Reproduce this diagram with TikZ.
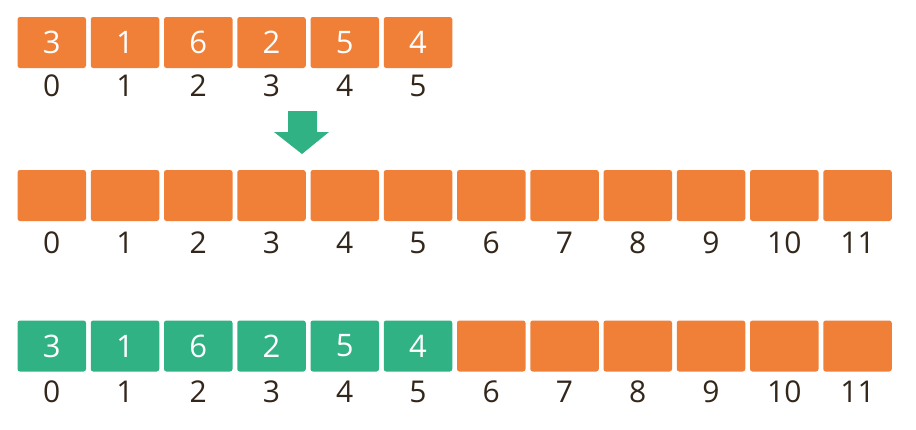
\documentclass[tikz,border=0pt]{standalone}
\usepackage{fontspec}
\setmainfont{Open Sans}
\definecolor{boxor}{HTML}{F07F37}
\definecolor{boxgr}{HTML}{30B285}
\definecolor{ink}{HTML}{33261A}
\begin{document}
\begin{tikzpicture}[x=1pt,y=-1pt,
  cell/.style={minimum width=68.5pt,minimum height=51pt,inner sep=0pt,rounded corners=2.5pt,font=\fontsize{31}{31}\selectfont,text=white},
  orcell/.style={cell,fill=boxor},
  grcell/.style={cell,fill=boxgr},
  idx/.style={inner sep=0pt,text=ink,font=\fontsize{30}{30}\selectfont}]
\useasboundingbox (0,0) rectangle (916,429);
\fill[white] (0,0) rectangle (916,429);
% top row
\foreach \v [count=\i from 0] in {3,1,6,2,5,4}{
  \node[orcell] (t\i) at ({51.75+73.25*\i},42.5) {\v};
  \node[idx] (tl\i) at ({51.75+73.25*\i},86) {\i};
}
% arrow
\fill[boxgr] (288,111) -- (317,111) -- (317,132) -- (329,132) -- (302,154) -- (274,132) -- (288,132) -- cycle;
% middle row
\foreach \i in {0,...,11}{
  \node[orcell] (m\i) at ({51.75+73.25*\i},195.5) {};
  \node[idx] (ml\i) at ({51.75+73.25*\i},243) {\i};
}
% bottom row
\foreach \v [count=\i from 0] in {3,1,6,2,5,4}{
  \node[grcell] (b\i) at ({51.75+73.25*\i},346) {\v};
}
\foreach \i in {6,...,11}{
  \node[orcell] (b\i) at ({51.75+73.25*\i},346) {};
}
\foreach \i in {0,...,11}{
  \node[idx] (bl\i) at ({51.75+73.25*\i},392) {\i};
}
\end{tikzpicture}
\end{document}
